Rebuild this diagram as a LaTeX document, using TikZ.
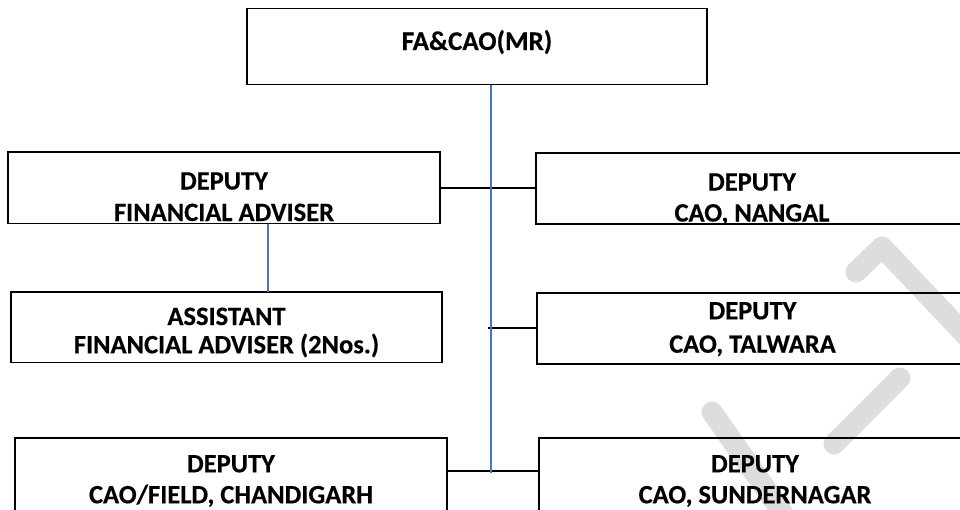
\documentclass[tikz,border=0pt]{standalone}
\usepackage{fontspec}
\setmainfont{Carlito}[BoldFeatures={FakeBold=0.4}]
\definecolor{linkblue}{HTML}{4472C4}
\definecolor{wmgray}{HTML}{DDDDDD}
\begin{document}
\begin{tikzpicture}[x=1pt,y=-1pt,
  box/.style={draw=black, line width=1.8pt, inner sep=0pt, outer sep=0pt, anchor=north west},
  lbl/.style={font=\bfseries\fontsize{26.5}{31}\selectfont, anchor=base, inner sep=0pt},
  lblbig/.style={font=\bfseries\fontsize{27}{32}\selectfont, anchor=base, inner sep=0pt},
  solidlink/.style={draw=black, line width=1.8pt},
  bluelink/.style={draw=linkblue, line width=1.4pt},
  wm/.style={draw=wmgray, line width=21pt, line cap=round, line join=round}]
\useasboundingbox (0,0) rectangle (960,509);
\clip (0,0) rectangle (960,509);
\fill[white] (0,0) rectangle (960,509);

% faint watermark strokes
\draw[wm] (856,272) -- (882,247) -- (975,345);
\draw[wm] (712,412) -- (782,512);
\draw[wm] (900,378) -- (834,444);

% boxes
\node[box, minimum width=460pt, minimum height=76pt] (top) at (247,8.5) {};
\node[box, minimum width=432pt, minimum height=71.5pt] (dfa) at (8,152) {};
\node[box, minimum width=432pt, minimum height=71.6pt] (nangal) at (536,152.7) {};
\node[box, minimum width=431pt, minimum height=70.8pt] (afa) at (11,291.7) {};
\node[box, minimum width=431pt, minimum height=71.6pt] (talwara) at (537,292.7) {};
\node[box, minimum width=432pt, minimum height=80pt] (field) at (15,438) {};
\node[box, minimum width=432pt, minimum height=80pt] (sunder) at (539,438) {};

% labels
\node[lblbig] (ttop) at (top.center |- 0,50) {FA\&CAO(MR)};
\node[lbl] (tdfa1) at (dfa.center |- 0,189.5) {DEPUTY};
\node[lbl] (tdfa2) at (dfa.center |- 0,221) {FINANCIAL ADVISER};
\node[lbl] (tnan1) at (nangal.center |- 0,190.5) {DEPUTY};
\node[lbl] (tnan2) at (nangal.center |- 0,221.5) {CAO, NANGAL};
\node[lbl] (tafa1) at (afa.center |- 0,325) {ASSISTANT};
\node[lbl] (tafa2) at (afa.center |- 0,353.3) {FINANCIAL ADVISER (2Nos.)};
\node[lbl] (ttal1) at (talwara.center |- 0,319.3) {DEPUTY};
\node[lbl] (ttal2) at (talwara.center |- 0,352.7) {CAO, TALWARA};
\node[lbl] (tfld1) at (field.center |- 0,472.3) {DEPUTY};
\node[lbl] (tfld2) at (field.center |- 0,503.3) {CAO/FIELD, CHANDIGARH};
\node[lbl] (tsun1) at (sunder.center |- 0,472.3) {DEPUTY};
\node[lbl] (tsun2) at (sunder.center |- 0,503.3) {CAO, SUNDERNAGAR};

% junction points on the spine
\coordinate (spine) at (491,473);
\coordinate (sub) at (268,0);
\coordinate (upjoin) at (491,188);
\coordinate (midjoin) at (488,328);
\coordinate (lowjoin) at (491,471);

% black links
\draw[solidlink] (upjoin -| dfa.east) -- (upjoin -| nangal.west);
\draw[solidlink] (midjoin) -- (midjoin -| talwara.west);
\draw[solidlink] (lowjoin -| field.east) -- (lowjoin -| sunder.west);

% blue links
\draw[bluelink] (top.south -| spine) -- (spine);
\draw[bluelink] (sub |- dfa.south) -- (sub |- afa.north);
\end{tikzpicture}
\end{document}
